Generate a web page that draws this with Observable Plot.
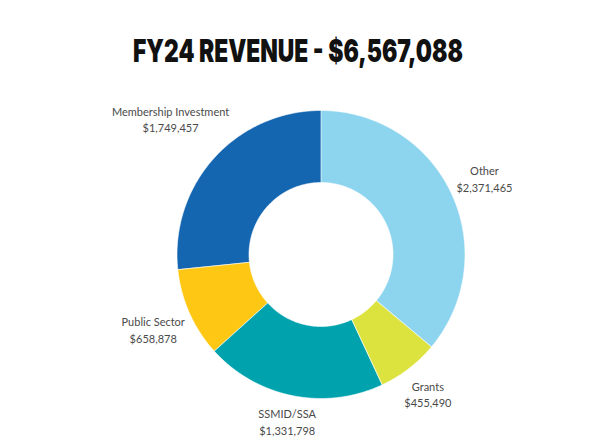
<!DOCTYPE html>
<html>
<head>
<meta charset="utf-8">
<script src="https://cdn.jsdelivr.net/npm/d3@7"></script>
<script src="https://cdn.jsdelivr.net/npm/@observablehq/plot@0.6"></script>
<style>
  html, body { margin: 0; padding: 0; background: #fff; }
  #wrap { width: 600px; height: 446px; overflow: hidden; }
  #title { position: relative; width: 600px; height: 80px; }
  #title span {
    position: absolute; left: 298px; top: 35px;
    font-family: "Inter", "Roboto", sans-serif; font-weight: 900;
    font-size: 31px; line-height: 31px; color: #111; white-space: nowrap;
    transform-origin: 0 0;
  }
</style>
</head>
<body>
<div id="wrap">
  <div id="title"><span id="t">FY24 REVENUE - $6,567,088</span></div>
  <div id="chart"></div>
</div>
<script>
const categories = ["Other", "Grants", "SSMID/SSA", "Public Sector", "Membership Investment"];
const values = [2371465, 455490, 1331798, 658878, 1749457];
const valueLabels = ["$2,371,465", "$455,490", "$1,331,798", "$658,878", "$1,749,457"];
const colors = ["#8dd4ef", "#dde33e", "#00a2ae", "#fdc714", "#1466b0"];

const R = 144;          // outer radius (px)
const innerRatio = 0.5; // hole
const cx = 320.5, cy = 174, W = 600, H = 366;
const fontSize = 11, lineH = 1.5;

const arcs = d3.pie().sort(null).value(d => d)(values);

const ringPts = [];
arcs.forEach((a, i) => {
  const n = Math.max(2, Math.ceil((a.endAngle - a.startAngle) / 0.01));
  for (let k = 0; k <= n; k++) {
    const t = a.startAngle + (a.endAngle - a.startAngle) * k / n;
    ringPts.push({name: categories[i], x: Math.sin(t), y: Math.cos(t)});
  }
  for (let k = n; k >= 0; k--) {
    const t = a.startAngle + (a.endAngle - a.startAngle) * k / n;
    ringPts.push({name: categories[i], x: innerRatio * Math.sin(t), y: innerRatio * Math.cos(t)});
  }
});

const ctx = document.createElement("canvas").getContext("2d");
ctx.font = `${fontSize}px Lato`;
const labels = arcs.map((a, i) => {
  const mid = (a.startAngle + a.endAngle) / 2;
  const w = Math.max(ctx.measureText(categories[i]).width, ctx.measureText(valueLabels[i]).width);
  const halfH = fontSize * lineH;
  const rpx = R + 4 + Math.abs(Math.sin(mid)) * w / 2 + Math.abs(Math.cos(mid)) * halfH;
  return {x: rpx / R * Math.sin(mid), y: rpx / R * Math.cos(mid), text: categories[i] + "\n" + valueLabels[i]};
});

const chart = Plot.plot({
  width: W, height: H, margin: 0,
  x: {domain: [-cx / R, (W - cx) / R], axis: null},
  y: {domain: [-(H - cy) / R, cy / R], axis: null},
  color: {domain: categories, range: colors},
  style: {fontFamily: "Lato, sans-serif", background: "#fff"},
  marks: [
    Plot.line(ringPts, {x: "x", y: "y", z: "name", fill: "name", stroke: "#fff", strokeWidth: 0.6, curve: "linear-closed"}),
    Plot.text(labels, {x: "x", y: "y", text: "text", fontSize: fontSize, lineHeight: lineH, fill: "#4a4a4a", textAnchor: "middle"})
  ]
});
document.getElementById("chart").appendChild(chart);

function fitTitle() {
  const t = document.getElementById("t");
  t.style.transform = "none";
  const w = t.getBoundingClientRect().width;
  const s = 330 / w;
  t.style.left = (298 - 165) + "px";
  t.style.transform = `scaleX(${s})`;
}
fitTitle();
if (document.fonts && document.fonts.ready) document.fonts.ready.then(fitTitle);
</script>
</body>
</html>
